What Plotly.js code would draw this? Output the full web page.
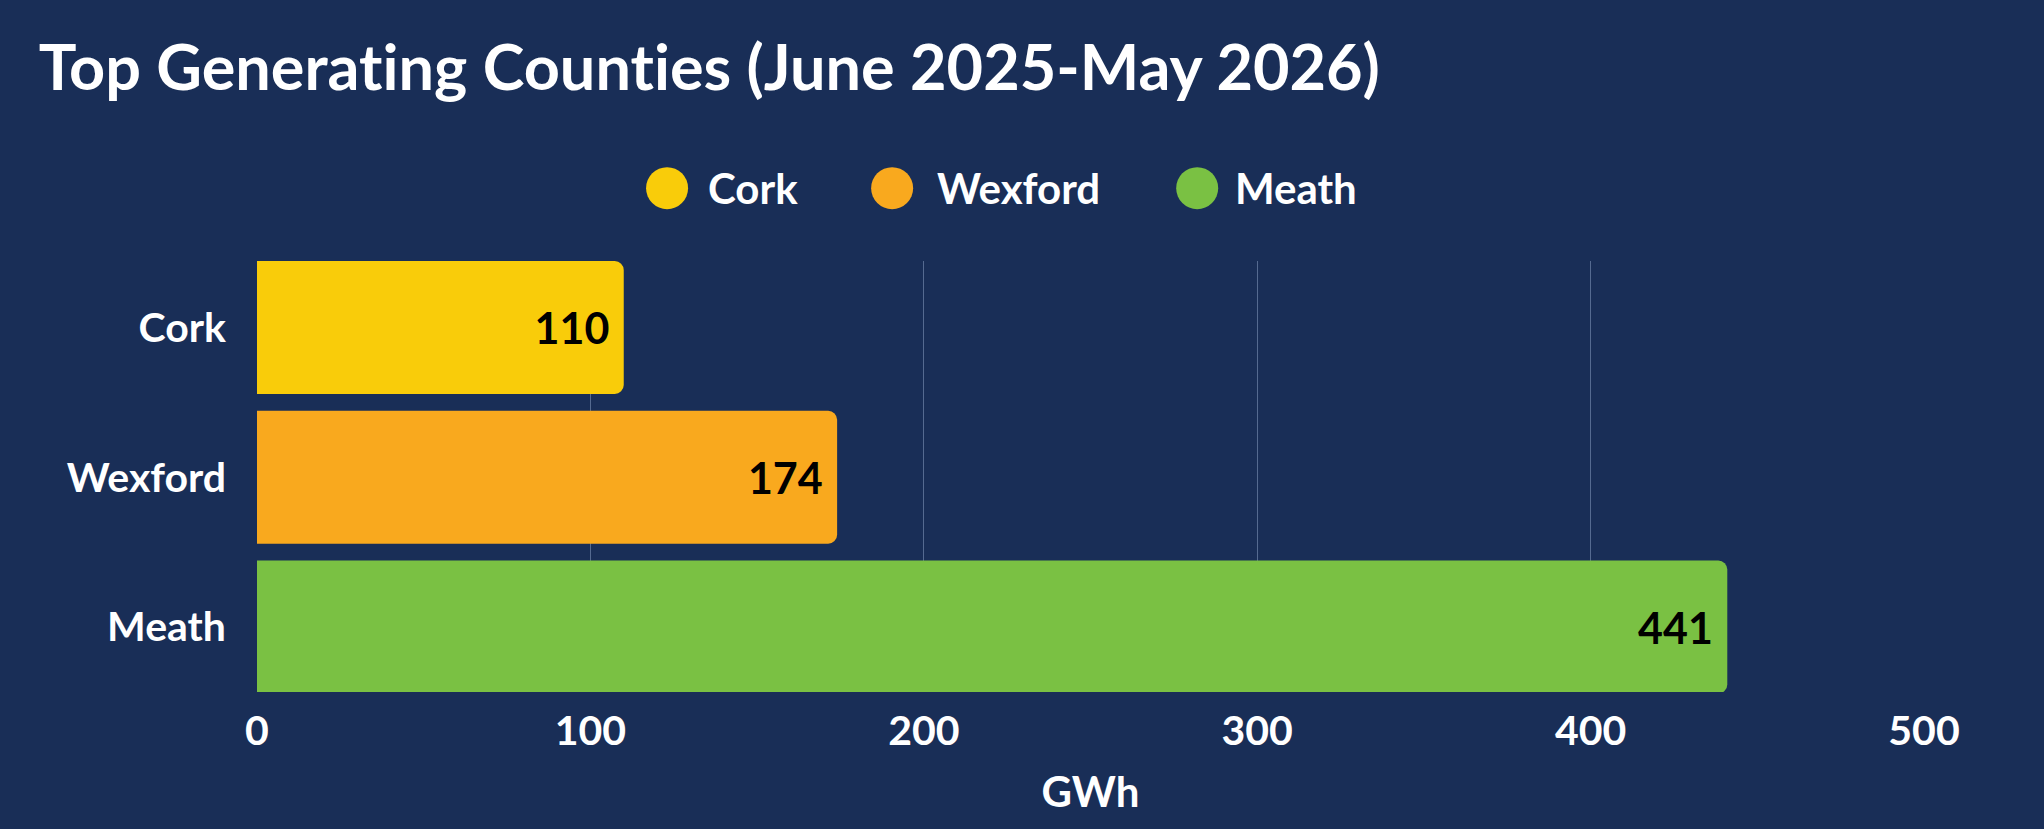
<!DOCTYPE html>
<html>
<head>
<meta charset="utf-8">
<script src="https://cdn.plot.ly/plotly-3.0.1.min.js"></script>
<style>
  html, body { margin: 0; padding: 0; background: #192e57; }
  #chart { width: 2044px; height: 829px; }
  #chart text, #chart tspan {
    font-variant-ligatures: none !important;
    font-feature-settings: "liga" 0, "clig" 0 !important;
  }
</style>
</head>
<body>
<div id="chart"></div>
<script>
// ---- data ----
const counties = ["Cork", "Wexford", "Meath"];
const generationGWh = [110, 174, 441];
const countyColors = ["#f9cc0a", "#f9a91e", "#7ac143"];
const xTickValues = [0, 100, 200, 300, 400, 500];
const chartTitle = "Top Generating Counties (June 2025-May 2026)";
const xAxisTitle = "GWh";

// ---- build ----
const FONT = "Lato, 'Open Sans', sans-serif";
const BG = "#192e57";

const traces = counties.map((c, i) => ({
  type: "bar",
  orientation: "h",
  name: c,
  y: [c],
  x: [generationGWh[i]],
  marker: { color: countyColors[i], cornerradius: 9, line: { width: 0 } },
  text: [String(generationGWh[i]) + "\u2009"],
  textposition: "inside",
  insidetextanchor: "end",
  textangle: 0,
  textfont: { family: FONT, size: 43, color: "#000000", weight: 700 },
  constraintext: "none",
  hoverinfo: "x+y",
  showlegend: false
}));

// legend drawn as circles + labels above the plot (paper coordinates)
const legendCircleX = [0.246, 0.381, 0.564];
const legendTextX = [0.2695, 0.4065, 0.5855];
const legendY = 1.169;
const shapes = counties.map((c, i) => ({
  type: "circle",
  xref: "paper", yref: "paper",
  xsizemode: "pixel", ysizemode: "pixel",
  xanchor: legendCircleX[i], yanchor: legendY,
  x0: -21, x1: 21, y0: -21, y1: 21,
  fillcolor: countyColors[i],
  line: { width: 0 }
}));
const annotations = counties.map((c, i) => ({
  xref: "paper", yref: "paper",
  x: legendTextX[i], y: legendY,
  xanchor: "left", yanchor: "middle",
  text: c,
  showarrow: false,
  font: { family: FONT, size: 42, color: "#ffffff", weight: 700 }
}));

const layout = {
  width: 2044,
  height: 829,
  paper_bgcolor: BG,
  plot_bgcolor: BG,
  font: { family: FONT, color: "#ffffff", weight: 700 },
  margin: { l: 257, r: 120, t: 261, b: 137, pad: 0 },
  title: {
    text: chartTitle,
    font: { family: FONT, size: 63, color: "#ffffff", weight: 700 },
    x: 0.019, xanchor: "left", xref: "container",
    y: 0.918, yanchor: "middle", yref: "container"
  },
  barmode: "overlay",
  bargap: 0.113,
  showlegend: false,
  xaxis: {
    range: [0, 500],
    tickvals: xTickValues,
    ticktext: xTickValues.map(String),
    tickfont: { family: FONT, size: 41, color: "#ffffff", weight: 700 },
    showgrid: true,
    gridcolor: "rgba(160,180,215,0.45)",
    gridwidth: 1,
    zeroline: false,
    showline: false,
    ticks: "",
    ticklabelstandoff: 11,
    title: {
      text: xAxisTitle,
      font: { family: FONT, size: 42, color: "#ffffff", weight: 700 },
      standoff: 24
    },
    fixedrange: true
  },
  yaxis: {
    type: "category",
    categoryorder: "array",
    categoryarray: counties,
    range: [2.434, -0.444],
    tickfont: { family: FONT, size: 41, color: "#ffffff", weight: 700 },
    showgrid: false,
    zeroline: false,
    showline: false,
    ticks: "",
    ticklabelstandoff: 30,
    fixedrange: true
  },
  shapes: shapes,
  annotations: annotations
};

Plotly.newPlot("chart", traces, layout, { displayModeBar: false, staticPlot: true });
</script>
</body>
</html>
